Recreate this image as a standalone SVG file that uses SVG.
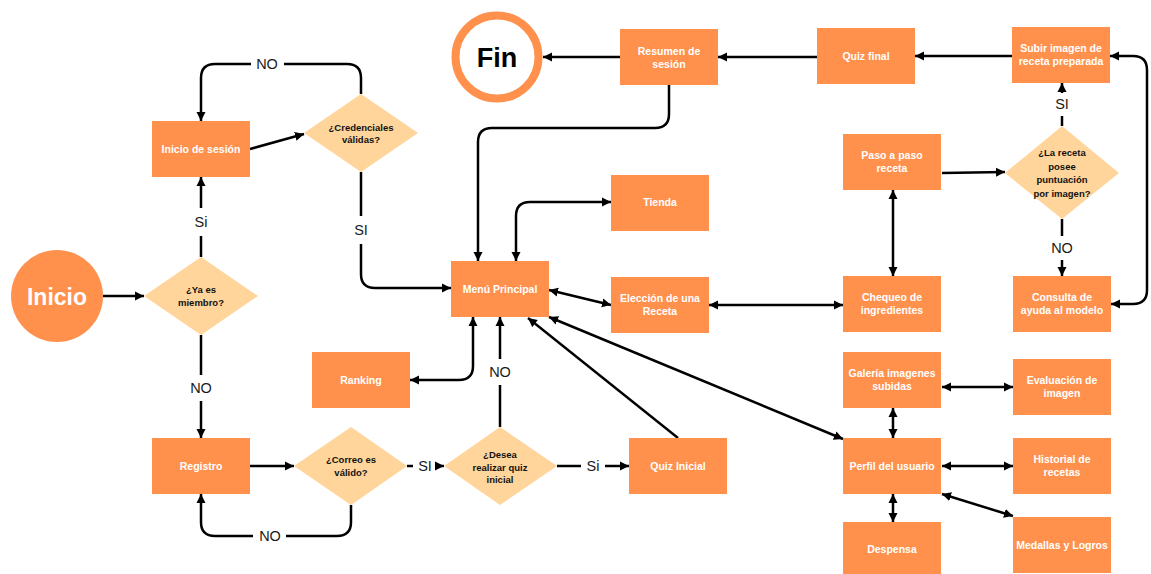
<svg xmlns="http://www.w3.org/2000/svg" width="1151" height="574" viewBox="0 0 1151 574">
<style>
.box{fill:#FF914D}
.dia{fill:#FFD59B}
.bt{font-family:"Liberation Sans",Arial,sans-serif;font-weight:bold;font-size:10.5px;fill:#fff;text-anchor:middle;dominant-baseline:central}
.dt{font-family:"Liberation Sans",Arial,sans-serif;font-weight:bold;font-size:9.5px;fill:#111;text-anchor:middle;dominant-baseline:central}
.lb{font-family:"Liberation Sans",Arial,sans-serif;font-size:14.5px;fill:#1a1a1a;text-anchor:middle;dominant-baseline:central}
.c{fill:none;stroke:#000;stroke-width:2.5}
.e{marker-end:url(#ah)}
.b{marker-start:url(#ah);marker-end:url(#ah)}
</style>
<defs>
<marker id="ah" markerUnits="userSpaceOnUse" markerWidth="10" markerHeight="10" refX="9" refY="5" orient="auto-start-reverse" viewBox="0 0 10 10">
<path d="M0,0.5 L9,5 L0,9.5 z" fill="#000"/>
</marker>
</defs>
<rect width="1151" height="574" fill="#fff"/>

<g id="connectors">
<path class="c e" d="M103,296 L144,296"/>
<path class="c" d="M201,257 L201,236"/>
<path class="c e" d="M201,208 L201,177"/>
<path class="c" d="M201,335 L201,375"/>
<path class="c e" d="M201,401 L201,438"/>
<path class="c e" d="M250,149 L304,134"/>
<path class="c" d="M361,94 L361,78 Q361,64 347,64 L284,64"/>
<path class="c e" d="M251,64 L215,64 Q201,64 201,78 L201,121"/>
<path class="c" d="M361,172 L361,216"/>
<path class="c e" d="M361,244 L361,274 Q361,288 375,288 L451,288"/>
<path class="c e" d="M250,466 L294,466"/>
<path class="c" d="M351,505 L351,522 Q351,536 337,536 L286,536"/>
<path class="c e" d="M253,536 L215,536 Q201,536 201,522 L201,494"/>
<path class="c" d="M407,466 L413,466"/>
<path class="c e" d="M437,466 L444,466"/>
<path class="c" d="M557,466 L581,466"/>
<path class="c e" d="M605,466 L629,466"/>
<path class="c" d="M500,427 L500,385"/>
<path class="c e" d="M500,359 L500,317"/>
<path class="c e" d="M678,438 L528,318"/>
<path class="c b" d="M473,317 L473,366 Q473,380 459,380 L410,380"/>
<path class="c b" d="M516,261 L516,216 Q516,202 530,202 L611,202"/>
<path class="c e" d="M669,85 L669,114 Q669,128 655,128 L492,128 Q478,128 478,142 L478,261"/>
<path class="c b" d="M549,290 L611,305"/>
<path class="c b" d="M709,305 L843,305"/>
<path class="c b" d="M549,317 L843,439"/>
<path class="c b" d="M893,190 L893,276"/>
<path class="c e" d="M942,173 L1005,172"/>
<path class="c" d="M1062,126 L1062,116"/>
<path class="c e" d="M1062,93 L1062,83"/>
<path class="c" d="M1062,219 L1062,236"/>
<path class="c e" d="M1062,260 L1062,276"/>
<path class="c b" d="M1111,304 L1133,304 Q1147,304 1147,290 L1147,70 Q1147,56 1133,56 L1110,56"/>
<path class="c e" d="M1012,56 L915,56"/>
<path class="c e" d="M817,57 L718,57"/>
<path class="c e" d="M620,57 L543,57"/>
<path class="c b" d="M942,387 L1013,387"/>
<path class="c b" d="M893,408 L893,438"/>
<path class="c b" d="M942,466 L1013,466"/>
<path class="c b" d="M893,494 L893,522"/>
<path class="c b" d="M942,494 L1013,516"/>
<text class="lb" x="201" y="222">Si</text>
<text class="lb" x="201" y="388">NO</text>
<text class="lb" x="267" y="64">NO</text>
<text class="lb" x="361" y="230">SI</text>
<text class="lb" x="270" y="536">NO</text>
<text class="lb" x="425" y="466">SI</text>
<text class="lb" x="593" y="466">Si</text>
<text class="lb" x="500" y="372">NO</text>
<text class="lb" x="1062" y="104">SI</text>
<text class="lb" x="1062" y="248">NO</text>
</g>

<g id="inicio"><circle cx="57" cy="296" r="46" fill="#FF914D"/><text x="57" y="297" font-family="Liberation Sans,Arial,sans-serif" font-weight="bold" font-size="23" fill="#fff" text-anchor="middle" dominant-baseline="central">Inicio</text></g>
<g id="fin"><circle cx="497" cy="57" r="41.5" fill="#fff" stroke="#FF914D" stroke-width="8"/><text x="497" y="58" font-family="Liberation Sans,Arial,sans-serif" font-weight="bold" font-size="27" fill="#000" text-anchor="middle" dominant-baseline="central">Fin</text></g>

<g id="ya-es-miembro"><polygon class="dia" points="201,257 258,296 201,335 144,296"/><text class="dt" x="201" y="289">¿Ya es</text><text class="dt" x="201" y="302">miembro?</text></g>
<g id="inicio-sesion"><rect class="box" x="152" y="121" width="98" height="56"/><text class="bt" x="201" y="149">Inicio de sesión</text></g>
<g id="credenciales"><polygon class="dia" points="361,94 418,133 361,172 304,133"/><text class="dt" x="361" y="127">¿Credenciales</text><text class="dt" x="361" y="139">válidas?</text></g>
<g id="registro"><rect class="box" x="152" y="438" width="98" height="56"/><text class="bt" x="201" y="466">Registro</text></g>
<g id="correo"><polygon class="dia" points="351,427 407,466 351,505 294,466"/><text class="dt" x="351" y="459">¿Correo es</text><text class="dt" x="351" y="472">válido?</text></g>
<g id="desea"><polygon class="dia" points="500,427 557,466 500,505 444,466"/><text class="dt" x="500" y="454">¿Desea</text><text class="dt" x="500" y="467">realizar quiz</text><text class="dt" x="500" y="479">inicial</text></g>
<g id="ranking"><rect class="box" x="312" y="352" width="98" height="56"/><text class="bt" x="361" y="380">Ranking</text></g>
<g id="menu"><rect class="box" x="451" y="261" width="98" height="56"/><text class="bt" x="500" y="289">Menú Principal</text></g>
<g id="tienda"><rect class="box" x="611" y="175" width="98" height="56"/><text class="bt" x="660" y="202">Tienda</text></g>
<g id="eleccion"><rect class="box" x="611" y="277" width="98" height="56"/><text class="bt" x="660" y="298">Elección de una</text><text class="bt" x="660" y="311">Receta</text></g>
<g id="quiz-inicial"><rect class="box" x="629" y="438" width="98" height="56"/><text class="bt" x="678" y="466">Quiz Inicial</text></g>
<g id="resumen"><rect class="box" x="620" y="29" width="98" height="56"/><text class="bt" x="669" y="51">Resumen de</text><text class="bt" x="669" y="64">sesión</text></g>
<g id="quiz-final"><rect class="box" x="817" y="28" width="98" height="56"/><text class="bt" x="866" y="56">Quiz final</text></g>
<g id="subir"><rect class="box" x="1012" y="27" width="98" height="56"/><text class="bt" x="1061" y="48">Subir imagen de</text><text class="bt" x="1061" y="61">receta preparada</text></g>
<g id="paso"><rect class="box" x="843" y="134" width="98" height="56"/><text class="bt" x="892" y="155">Paso a paso</text><text class="bt" x="892" y="168">receta</text></g>
<g id="la-receta"><polygon class="dia" points="1062,126 1119,173 1062,219 1005,173"/><text class="dt" x="1062" y="152">¿La receta</text><text class="dt" x="1062" y="166">posee</text><text class="dt" x="1062" y="179">puntuación</text><text class="dt" x="1062" y="193">por imagen?</text></g>
<g id="chequeo"><rect class="box" x="843" y="276" width="98" height="56"/><text class="bt" x="892" y="297">Chequeo de</text><text class="bt" x="892" y="310">ingredientes</text></g>
<g id="consulta"><rect class="box" x="1013" y="276" width="98" height="56"/><text class="bt" x="1062" y="297">Consulta de</text><text class="bt" x="1062" y="310">ayuda al modelo</text></g>
<g id="galeria"><rect class="box" x="843" y="352" width="98" height="56"/><text class="bt" x="892" y="373">Galería imagenes</text><text class="bt" x="892" y="386">subidas</text></g>
<g id="evaluacion"><rect class="box" x="1013" y="359" width="98" height="56"/><text class="bt" x="1062" y="380">Evaluación de</text><text class="bt" x="1062" y="393">imagen</text></g>
<g id="perfil"><rect class="box" x="843" y="438" width="98" height="56"/><text class="bt" x="892" y="466">Perfil del usuario</text></g>
<g id="historial"><rect class="box" x="1013" y="438" width="98" height="56"/><text class="bt" x="1062" y="459">Historial de</text><text class="bt" x="1062" y="472">recetas</text></g>
<g id="despensa"><rect class="box" x="843" y="522" width="98" height="56"/><text class="bt" x="892" y="549">Despensa</text></g>
<g id="medallas"><rect class="box" x="1013" y="517" width="98" height="56"/><text class="bt" x="1062" y="545">Medallas y Logros</text></g>
</svg>
